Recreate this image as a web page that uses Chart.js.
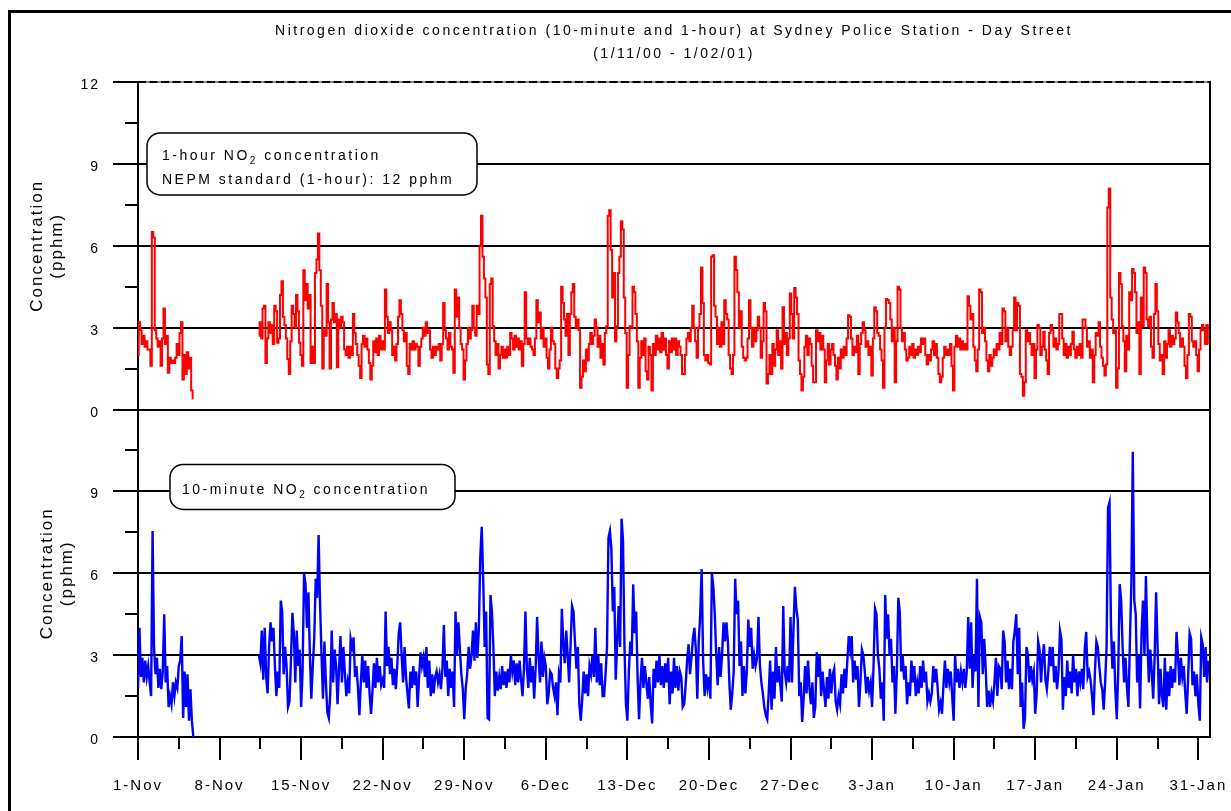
<!DOCTYPE html>
<html>
<head>
<meta charset="utf-8">
<title>NO2 - Sydney Police Station</title>
<script src="https://cdn.jsdelivr.net/npm/chart.js@4.4.1/dist/chart.umd.min.js"></script>
<style>
  html, body { margin: 0; padding: 0; background: #fff; }
  canvas { display: block; }
</style>
</head>
<body>
<canvas id="graph" width="1231" height="811"></canvas>
<script>
/*
 * Concentration de NO2 (10 minutes et 1 heure), 1/11/00 - 1/02/01.
 * Valeurs, un point toutes les 3 heures depuis le 1er novembre.
 */

const POLICE = "'Liberation Sans', Arial, sans-serif";

// Pas entre deux valeurs, en jours (3 heures)
const pasJours = 0.125;

// Graduations de l'axe des dates (jours depuis le 1-Nov) et leurs libelles
const joursTicks = [0, 7, 14, 21, 28, 35, 42, 49, 56, 63, 70, 77, 84, 91];
const etiquettesX = ["1-Nov", "8-Nov", "15-Nov", "22-Nov", "29-Nov", "6-Dec", "13-Dec",
  "20-Dec", "27-Dec", "3-Jan", "10-Jan", "17-Jan", "24-Jan", "31-Jan"];
const ticksHaut = [0, 3, 6, 9, 12];
const ticksBas = [0, 3, 6, 9];

// Moyennes sur 1 heure (pphm), une ligne = un jour (8 valeurs)
const no2Horaire = [
  2.0, 3.2, 2.9, 2.4, 2.7, 2.3, 2.5, 2.2,
  2.2, 1.6, 6.5, 6.3, 2.9, 2.6, 2.3, 2.5,
  1.6, 2.6, 3.7, 2.4, 2.7, 1.35, 1.9, 1.7,
  1.8, 1.7, 1.9, 2.4, 2.0, 2.8, 3.2, 1.1,
  2.0, 1.3, 2.1, 1.5, 1.9, 0.7, 0.4, null,
  null, null, null, null, null, null, null, null,
  null, null, null, null, null, null, null, null,
  null, null, null, null, null, null, null, null,
  null, null, null, null, null, null, null, null,
  null, null, null, null, null, null, null, null,
  null, null, null, 2.7, 3.2, 2.6, 3.7, 3.8,
  1.7, 2.6, 3.2, 2.8, 3.1, 2.4, 3.8, 3.6,
  2.45, 2.6, 4.2, 4.7, 3.4, 3.1, 2.6, 1.85,
  1.3, 2.5, 3.8, 3.5, 3.0, 4.2, 3.6, 2.45,
  2.0, 1.6, 5.1, 4.0, 4.6, 3.7, 4.2, 1.7,
  2.3, 1.7, 5.0, 5.5, 6.45, 5.1, 3.8, 1.5,
  2.9, 2.7, 4.6, 3.2, 1.5, 3.3, 3.9, 3.2,
  3.5, 1.55, 3.3, 3.0, 3.4, 3.2, 2.2, 2.0,
  2.3, 1.9, 2.3, 2.0, 3.5, 2.8, 2.4, 2.0,
  1.6, 1.15, 2.4, 2.7, 2.3, 2.6, 2.2, 1.7,
  1.1, 1.6, 2.5, 2.1, 2.6, 2.0, 2.7, 2.2,
  2.5, 2.2, 4.4, 3.4, 2.8, 3.2, 2.9, 2.0,
  2.3, 1.8, 2.4, 3.4, 4.0, 3.5, 2.9, 2.5,
  2.8, 1.6, 1.3, 2.4, 2.2, 2.5, 2.2, 2.4,
  2.3, 1.6, 2.3, 2.6, 3.0, 2.7, 3.2, 2.8,
  2.9, 2.2, 1.9, 2.3, 2.0, 2.3, 2.2, 2.4,
  1.8, 2.4, 3.9, 2.9, 2.6, 2.2, 2.8, 2.3,
  2.2, 1.35, 4.4, 3.4, 4.1, 3.0, 2.4, 2.2,
  1.1, 1.8, 2.4, 3.0, 2.6, 2.9, 3.8, 3.0,
  2.7, 3.8, 3.5, 6.0, 7.1, 5.6, 4.8, 4.1,
  1.65, 1.3, 4.6, 4.8, 3.05, 2.5, 2.0, 2.4,
  1.5, 2.0, 2.3, 1.9, 2.2, 1.9, 2.3, 2.0,
  2.8, 2.6, 2.2, 2.7, 2.3, 2.6, 2.2, 2.5,
  1.6, 2.4, 4.3, 2.6, 2.4, 2.6, 2.3, 2.2,
  2.0, 2.6, 4.0, 3.2, 3.55, 2.6, 3.0, 2.3,
  2.6, 1.9, 1.5, 2.2, 3.0, 2.5, 2.4, 1.5,
  1.15, 1.5, 1.8, 4.5, 3.9, 3.3, 2.7, 3.5,
  2.0, 3.5, 4.3, 4.6, 3.4, 3.0, 3.3, 2.9,
  0.8, 1.2, 1.8, 1.4, 2.2, 1.8, 2.4, 2.8,
  2.4, 2.7, 3.3, 3.0, 2.3, 2.7, 1.9, 2.4,
  1.65, 2.8, 3.05, 7.1, 7.3, 5.85, 4.1, 5.0,
  2.5, 3.05, 5.0, 5.6, 6.9, 6.6, 4.1, 2.8,
  0.8, 2.0, 3.05, 3.0, 4.5, 4.3, 3.5, 2.5,
  0.8, 1.9, 2.5, 2.0, 2.6, 1.4, 1.1, 2.3,
  2.0, 0.7, 2.4, 2.0, 2.7, 2.2, 2.6, 2.1,
  2.8, 2.2, 2.6, 2.0, 1.5, 2.5, 2.1, 2.6,
  2.2, 2.6, 2.0, 2.5, 2.3, 2.0, 1.3, 1.3,
  2.0, 2.6, 2.8, 2.5, 3.0, 3.8, 3.0, 2.5,
  1.9, 3.0, 3.5, 5.2, 3.9, 2.0, 1.8, 2.0,
  1.7, 1.65, 5.6, 5.65, 3.8, 3.4, 2.4, 3.0,
  2.3, 3.2, 2.4, 4.0, 3.5, 3.3, 2.0, 1.5,
  1.3, 2.0, 5.6, 5.1, 4.3, 3.0, 3.6, 2.3,
  1.9, 1.8, 1.9, 2.6, 4.0, 3.0, 2.3, 3.0,
  2.5, 2.9, 3.4, 3.0, 1.9, 2.5, 3.9, 3.6,
  0.95, 1.3, 2.0, 1.3, 2.4, 1.6, 2.2, 2.9,
  2.0, 2.5, 1.5, 3.75, 2.4, 2.8, 2.0, 2.6,
  4.25, 3.5, 2.6, 4.45, 4.1, 3.5, 1.8, 1.3,
  0.7, 1.2, 2.3, 2.7, 2.0, 2.6, 2.4, 1.6,
  1.0, 1.0, 2.9, 2.5, 2.8, 2.2, 2.7, 2.2,
  1.0, 1.8, 2.4, 1.65, 2.2, 2.4, 2.0, 1.6,
  1.1, 1.9, 1.5, 2.2, 1.9, 2.3, 2.0, 2.6,
  3.45, 3.4, 2.6, 2.0, 2.3, 2.1, 2.7, 1.3,
  2.4, 2.8, 3.2, 2.9, 2.3, 2.5, 2.0, 2.3,
  1.25, 2.6, 3.75, 3.6, 2.8, 2.7, 2.2, 1.8,
  0.8, 3.0, 4.05, 4.0, 3.9, 3.3, 2.5, 3.0,
  1.0, 2.5, 4.5, 4.4, 3.0, 2.5, 2.8, 2.2,
  1.8, 1.9, 2.3, 2.0, 2.4, 1.9, 2.2, 2.0,
  2.3, 2.1, 2.6, 2.4, 2.6, 2.0, 1.65, 2.0,
  1.8, 2.2, 2.5, 2.0, 2.4, 1.9, 1.3, 1.0,
  1.2, 1.9, 2.3, 2.0, 2.2, 2.0, 2.4, 1.6,
  0.7, 2.3, 2.7, 2.3, 2.6, 2.2, 2.5, 2.2,
  2.4, 2.2, 4.15, 3.8, 3.3, 3.5, 2.3, 1.8,
  1.4, 2.2, 4.4, 4.3, 2.8, 3.0, 2.5, 1.8,
  1.4, 2.0, 1.6, 1.9, 2.2, 2.0, 2.4, 2.2,
  2.8, 2.4, 3.7, 3.6, 2.5, 3.0, 2.3, 2.0,
  2.3, 2.9, 4.1, 2.9, 3.9, 3.8, 1.3, 1.2,
  0.5, 1.0, 2.9, 2.5, 2.8, 2.4, 2.0, 2.4,
  1.15, 2.2, 3.1, 3.0, 2.0, 2.3, 2.85, 2.2,
  1.8, 1.3, 2.8, 3.1, 2.9, 2.3, 2.6, 2.2,
  2.4, 3.5, 3.5, 2.6, 2.0, 2.4, 1.9, 2.3,
  2.0, 2.4, 2.85, 2.2, 1.9, 2.3, 2.0, 2.4,
  1.9, 3.3, 3.3, 3.0, 2.3, 2.5, 1.9, 2.2,
  1.0, 2.0, 2.8, 2.7, 3.2, 2.3, 1.9, 1.6,
  1.25, 1.65, 7.4, 8.1, 4.1, 3.3, 2.8, 2.9,
  0.8, 1.5, 5.0, 4.6, 3.05, 2.5, 1.4, 2.7,
  2.2, 4.3, 4.0, 5.15, 5.0, 4.3, 2.8, 3.2,
  1.3, 4.1, 3.05, 5.2, 5.0, 3.3, 3.05, 3.4,
  2.3, 1.9, 3.5, 4.6, 3.6, 2.4, 1.8, 2.0,
  1.3, 2.5, 1.9, 2.4, 2.9, 2.3, 2.7, 2.4,
  2.6, 3.55, 3.2, 2.8, 2.3, 2.6, 2.3, 1.6,
  1.15, 2.0, 3.5, 3.4, 2.5, 2.3, 2.5, 2.0,
  1.4, 2.2, 2.9, 3.1, 2.9, 2.4, 3.1, 2.4
];

// Valeurs sur 10 minutes (pphm), meme decoupage
const no2DixMinutes = [
  1.8, 4.0, 2.2, 2.9, 2.0, 2.8, 2.2, 2.6,
  2.0, 1.5, 7.55, 3.3, 2.3, 2.9, 1.8, 2.5,
  1.75, 2.4, 4.5, 2.0, 2.6, 1.1, 1.5, 1.2,
  2.0, 1.5, 2.0, 1.8, 2.6, 2.8, 3.7, 0.7,
  2.4, 1.1, 2.3, 0.6, 1.75, 0.6, 0.0, null,
  null, null, null, null, null, null, null, null,
  null, null, null, null, null, null, null, null,
  null, null, null, null, null, null, null, null,
  null, null, null, null, null, null, null, null,
  null, null, null, null, null, null, null, null,
  null, null, null, 3.0, 2.7, 3.9, 2.1, 4.0,
  2.2, 1.6, 3.3, 4.2, 3.5, 4.0, 2.6, 1.5,
  2.4, 1.8, 5.0, 4.6, 2.3, 3.3, 2.6, 1.1,
  1.3, 2.8, 4.55, 3.8, 2.0, 3.9, 2.6, 3.2,
  1.1, 2.4, 6.0, 5.6, 4.0, 5.3, 3.0, 1.4,
  2.6, 3.6, 5.8, 5.1, 7.4, 4.9, 3.0, 1.4,
  3.5, 2.0, 0.9, 0.7, 1.6, 3.9, 2.0, 3.2,
  2.6, 1.2, 2.5, 3.7, 2.0, 3.3, 2.4, 1.5,
  2.0, 1.6, 3.6, 3.3, 3.65, 2.2, 2.6, 1.8,
  0.8, 2.0, 3.0, 2.0, 2.8, 1.8, 2.6, 1.6,
  0.85, 1.7, 2.7, 1.8, 2.9, 2.0, 2.6, 1.9,
  2.1, 1.8, 4.6, 2.6, 3.3, 2.3, 2.9, 1.9,
  2.5, 1.75, 2.6, 3.8, 4.2, 3.0, 2.0, 3.3,
  2.2, 1.6, 1.05, 2.4, 1.8, 2.6, 1.9, 2.4,
  1.1, 2.2, 3.1, 2.6, 2.9, 2.2, 3.3, 1.8,
  2.8, 1.5, 2.3, 1.6, 2.2, 2.4, 2.0, 2.3,
  1.75, 2.5, 4.1, 2.2, 2.8, 1.5, 2.5, 1.8,
  2.4, 1.1, 4.6, 3.0, 4.2, 3.2, 2.3, 1.75,
  0.65, 1.8, 2.3, 3.3, 2.5, 3.0, 3.9, 2.8,
  4.2, 2.9, 3.9, 6.6, 7.7, 5.8, 3.3, 4.6,
  0.7, 0.65, 5.2, 4.6, 3.3, 1.5, 2.4, 1.7,
  2.2, 1.75, 2.6, 1.9, 2.4, 1.8, 2.5, 2.0,
  3.0, 2.4, 2.8, 1.9, 2.7, 2.0, 2.8, 2.1,
  1.5, 2.5, 4.6, 2.5, 1.8, 2.9, 2.0, 2.6,
  1.4, 2.5, 4.4, 3.0, 2.0, 3.5, 2.2, 2.9,
  2.6, 1.2, 1.6, 2.4, 2.3, 1.8, 1.5, 2.0,
  0.8, 2.3, 2.0, 4.7, 3.4, 2.7, 3.9, 3.0,
  2.0, 3.4, 4.8, 4.6, 3.5, 2.5, 3.3, 1.2,
  0.6, 1.4, 2.4, 1.6, 2.3, 1.5, 2.6, 2.3,
  3.0, 2.2, 4.0, 2.0, 3.0, 1.9, 2.7, 1.5,
  1.5, 2.3, 3.3, 7.3, 7.55, 6.9, 4.6, 5.5,
  2.1, 3.5, 4.8, 3.3, 8.0, 7.2, 3.3, 1.2,
  0.6, 2.4, 3.5, 3.0, 5.6, 3.8, 4.6, 2.2,
  0.65, 2.0, 2.9, 1.8, 2.6, 2.0, 1.4, 2.2,
  1.2, 0.5, 2.5, 1.8, 2.8, 2.0, 3.0, 1.9,
  2.6, 1.8, 2.7, 2.0, 2.9, 1.2, 2.4, 1.6,
  2.9, 1.8, 2.6, 1.7, 2.4, 2.2, 1.1, 1.2,
  1.9, 2.8, 3.4, 2.3, 2.9, 3.6, 4.0, 3.2,
  1.4, 3.5, 4.5, 6.15, 2.8, 1.5, 2.3, 1.8,
  2.2, 1.4, 6.0, 5.5, 4.5, 3.0, 1.9, 3.3,
  2.2, 3.0, 4.2, 3.5, 4.2, 3.5, 2.0, 1.0,
  1.6, 2.4, 5.8, 4.5, 5.0, 2.6, 3.5, 1.5,
  2.6, 1.6, 2.4, 4.3, 3.3, 4.0, 2.5, 3.0,
  2.6, 2.9, 4.4, 2.6, 2.0, 1.6, 1.1, 0.8,
  0.65, 1.6, 2.8, 1.0, 2.4, 1.4, 3.3, 2.0,
  2.6, 1.9, 1.3, 4.8, 2.4, 2.0, 2.6, 2.0,
  4.4, 2.0, 3.9, 5.5, 4.7, 4.3, 1.5, 2.0,
  0.55, 1.4, 2.6, 1.6, 2.8, 1.8, 1.2, 2.0,
  0.7, 1.1, 3.1, 2.2, 3.0, 1.5, 2.4, 1.7,
  1.1, 2.2, 1.4, 2.5, 1.6, 2.3, 2.5, 1.3,
  1.0, 1.5, 1.2, 2.3, 1.6, 2.5, 1.8, 2.8,
  3.7, 3.2, 3.7, 2.0, 2.8, 2.1, 2.6, 1.1,
  2.0, 3.2, 3.0, 2.4, 1.6, 2.2, 1.7, 2.0,
  1.1, 2.6, 4.7, 4.5, 3.0, 2.5, 1.4, 2.0,
  0.6, 5.2, 3.6, 4.5, 3.0, 3.6, 2.0, 2.6,
  0.85, 2.4, 5.1, 4.6, 2.4, 3.0, 2.1, 2.6,
  1.2, 2.0, 1.5, 2.8, 2.0, 2.6, 1.5, 2.0,
  1.6, 2.6, 1.8, 2.8, 2.0, 2.4, 1.3, 1.6,
  1.3, 1.6, 2.6, 2.0, 2.5, 1.8, 1.0, 1.25,
  0.85, 1.9, 2.8, 1.8, 2.5, 2.0, 2.4, 1.5,
  0.6, 3.0, 2.0, 2.5, 1.8, 2.4, 2.0, 2.5,
  1.8, 2.4, 4.4, 2.5, 4.2, 1.8, 3.0, 2.4,
  5.8, 1.1, 4.4, 4.2, 2.3, 3.6, 2.5, 1.1,
  1.7, 1.1, 1.6, 1.3, 2.0, 2.9, 1.5, 2.6,
  2.5, 1.75, 3.9, 3.5, 2.0, 2.8, 1.75, 2.5,
  1.75, 3.5, 3.9, 4.5, 2.3, 4.0, 1.1, 2.0,
  0.3, 0.7, 3.3, 3.0, 2.0, 2.6, 2.1, 2.4,
  0.85, 1.6, 3.5, 3.2, 2.0, 2.9, 3.4, 2.1,
  1.75, 2.4, 3.3, 2.6, 3.3, 2.0, 2.6, 1.75,
  2.4, 3.9, 3.6, 1.0, 2.2, 1.5, 2.8, 1.8,
  2.4, 1.6, 3.0, 2.0, 2.5, 1.5, 2.4, 2.0,
  2.5, 1.75, 3.2, 3.85, 2.2, 2.4, 2.1, 1.5,
  0.8, 2.4, 3.5, 3.3, 2.6, 2.0, 1.75, 1.0,
  2.0, 3.3, 8.4, 8.6, 4.1, 2.5, 3.5, 1.75,
  0.65, 2.4, 5.6, 5.0, 3.3, 2.0, 2.9, 1.8,
  1.1, 3.5, 5.6, 10.45, 5.0, 4.5, 2.0, 3.0,
  1.05, 3.8, 5.0, 3.0, 5.9, 3.6, 2.0, 3.2,
  2.4, 1.4, 3.0, 5.3, 3.3, 1.2, 2.5, 1.5,
  1.1, 2.9, 1.0, 2.4, 1.5, 2.6, 1.8, 2.5,
  2.0, 3.85, 3.0, 1.9, 2.9, 2.2, 2.6, 1.6,
  0.85, 2.2, 3.8, 3.6, 1.9, 2.4, 1.5, 2.3,
  1.2, 0.6, 3.65, 3.4, 2.2, 3.3, 2.0, 2.8
];

// ---------- Utilitaires ----------

function points(valeurs) {
  return valeurs.map((v, i) => ({ x: i * pasJours, y: v }));
}

function trait(ctx, x1, y1, x2, y2) {
  ctx.beginPath();
  ctx.moveTo(x1, y1);
  ctx.lineTo(x2, y2);
  ctx.stroke();
}

// Texte avec "2" en indice (NO2)
function texteNO2(ctx, avant, apres, x, y) {
  ctx.textAlign = "left";
  ctx.textBaseline = "middle";
  ctx.font = "14px " + POLICE;
  ctx.fillText(avant, x, y);
  x += ctx.measureText(avant).width;
  ctx.font = "10px " + POLICE;
  ctx.fillText("2", x, y + 5);
  x += ctx.measureText("2").width;
  ctx.font = "14px " + POLICE;
  ctx.fillText(apres, x, y);
}

function encadre(ctx, x, y, l, h) {
  ctx.beginPath();
  ctx.roundRect(x, y, l, h, 13);
  ctx.fillStyle = "#fff";
  ctx.fill();
  ctx.lineWidth = 1.5;
  ctx.strokeStyle = "#000";
  ctx.stroke();
}

// ---------- Cadre, titre, petites graduations et encadres ----------

const cadre = {
  id: "cadre",
  beforeDraw(chart) {
    const ctx = chart.ctx;
    ctx.save();
    ctx.fillStyle = "#fff";
    ctx.fillRect(0, 0, chart.width, chart.height);
    ctx.restore();
    ctx.letterSpacing = "2px";
  },
  afterDraw(chart) {
    const ctx = chart.ctx;
    const a = chart.chartArea;
    const sx = chart.scales.x;
    const yHaut = chart.scales.yHaut;
    const yBas = chart.scales.yBas;

    ctx.save();
    ctx.strokeStyle = "#000";

    // bordure de la figure
    ctx.lineWidth = 3;
    ctx.strokeRect(9.5, 11.5, chart.width + 20, chart.height + 20);

    // bord droit et bord haut (pointilles)
    ctx.lineWidth = 2;
    trait(ctx, a.right, a.top - 1, a.right, a.bottom);
    ctx.strokeStyle = "#888";
    trait(ctx, a.left, a.top, a.right, a.top);
    ctx.strokeStyle = "#000";
    ctx.setLineDash([8, 3.5]);
    trait(ctx, a.left, a.top, a.right, a.top);
    ctx.setLineDash([]);

    // petites graduations
    for (const s of [yHaut, yBas]) {
      for (const v of [1.5, 4.5, 7.5, 10.5]) {
        const py = Math.round(s.getPixelForValue(v));
        trait(ctx, a.left - 13, py, a.left, py);
      }
    }
    for (const j of joursTicks) {
      if (j + 3.5 > sx.max) continue;
      const px = Math.round(sx.getPixelForValue(j + 3.5));
      trait(ctx, px, a.bottom, px, a.bottom + 12);
    }

    // titre
    const cx = (a.left + a.right) / 2;
    ctx.fillStyle = "#000";
    ctx.letterSpacing = "2.5px";
    ctx.font = "14px " + POLICE;
    ctx.textAlign = "center";
    ctx.textBaseline = "middle";
    ctx.fillText("Nitrogen dioxide concentration (10-minute and 1-hour) at Sydney Police Station - Day Street", cx, 31);
    ctx.fillText("(1/11/00 - 1/02/01)", cx, 54);

    // encadre du haut (1 heure)
    const y9h = yHaut.getPixelForValue(9);
    encadre(ctx, a.left + 9, y9h - 31, 330, 62);
    ctx.fillStyle = "#000";
    texteNO2(ctx, "1-hour NO", " concentration", a.left + 24, y9h - 8);
    ctx.font = "14px " + POLICE;
    ctx.fillText("NEPM standard (1-hour): 12 pphm", a.left + 24, y9h + 16);

    // encadre du bas (10 minutes)
    const y9b = yBas.getPixelForValue(9);
    encadre(ctx, a.left + 32, y9b - 27, 285, 45);
    ctx.fillStyle = "#000";
    texteNO2(ctx, "10-minute NO", " concentration", a.left + 44, y9b - 1);

    ctx.restore();
  }
};

// ---------- Axes ----------

function axeY(poids, graduations, decalageTitre) {
  return {
    type: "linear",
    position: "left",
    stack: "panneaux",
    stackWeight: 1,
    weight: poids,
    min: 0,
    max: 12,
    afterBuildTicks: s => { s.ticks = graduations.map(v => ({ value: v })); },
    afterFit: s => { s.width = 138; },
    // ligne vide devant le libelle : le chiffre descend un peu sous la graduation
    ticks: {
      callback: v => ["", String(v)],
      font: { family: POLICE, size: 14, lineHeight: 0.45 },
      color: "#000",
      padding: 13,
    },
    grid: {
      lineWidth: 2,
      tickLength: 25,
      tickWidth: 2,
      tickColor: "#000",
      color: c => (c.tick && c.tick.value === 12) ? "rgba(0,0,0,0)" : "#000",
    },
    border: { display: true, color: "#000", width: 2 },
    title: {
      display: true,
      text: ["Concentration", "(pphm)"],
      color: "#000",
      font: { family: POLICE, size: 17, lineHeight: 1.2 },
      padding: { top: decalageTitre, bottom: 0 },
    },
  };
}

new Chart(document.getElementById("graph"), {
  type: "line",
  data: {
    datasets: [
      {
        label: "1-hour NO2",
        data: points(no2Horaire),
        yAxisID: "yHaut",
        borderColor: "#ff0000",
        borderWidth: 2,
        pointRadius: 0,
        stepped: "middle",
        spanGaps: false,
      },
      {
        label: "10-minute NO2",
        data: points(no2DixMinutes),
        yAxisID: "yBas",
        borderColor: "#0000ff",
        borderWidth: 2.4,
        pointRadius: 0,
        tension: 0,
        spanGaps: false,
      },
    ],
  },
  options: {
    responsive: false,
    animation: false,
    devicePixelRatio: 1,
    layout: { padding: { left: 0, top: 82, right: 21, bottom: 0 } },
    plugins: { legend: { display: false }, tooltip: { enabled: false }, title: { display: false } },
    scales: {
      x: {
        type: "linear",
        position: "bottom",
        min: 0,
        max: 92,
        afterBuildTicks: s => { s.ticks = joursTicks.map(v => ({ value: v })); },
        afterFit: s => {
          s.height = 74;
          // pas de marge supplementaire pour le dernier libelle
          s.paddingLeft = 0;
          s.paddingRight = 0;
        },
        ticks: {
          callback: (v, i) => etiquettesX[i],
          font: { family: POLICE, size: 15 },
          color: "#000",
          padding: 17,
          maxRotation: 0,
          autoSkip: false,
        },
        grid: { drawOnChartArea: false, tickLength: 23, tickWidth: 2, tickColor: "#000", lineWidth: 2, color: "#000" },
        border: { display: true, color: "#000", width: 2 },
      },
      yBas: axeY(1, ticksBas, 37),
      yHaut: axeY(2, ticksHaut, 27),
    },
  },
  plugins: [cadre],
});
</script>
</body>
</html>
